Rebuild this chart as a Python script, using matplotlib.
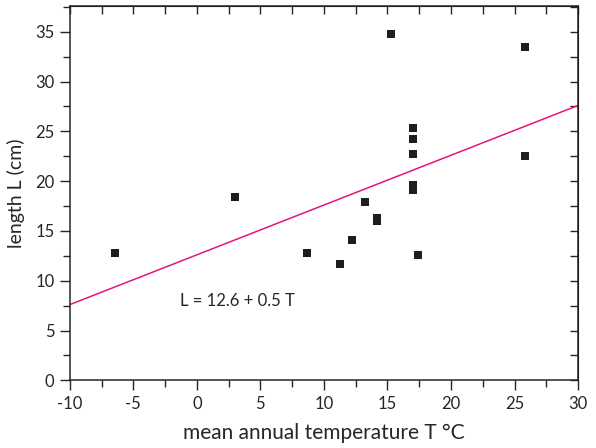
import matplotlib
matplotlib.use("Agg")
import matplotlib.pyplot as plt
import numpy as np
from matplotlib.ticker import MultipleLocator

plt.rcParams['font.family'] = ['Lato', 'DejaVu Sans']
plt.rcParams['axes.unicode_minus'] = False

# mean annual temperature (°C) and length (cm)
temp = [-6.4, 3.0, 15.3, 25.8, 17.0, 17.0, 17.0, 17.0, 17.0, 25.8,
        13.2, 14.2, 14.2, 12.2, 8.7, 11.3, 17.4]
length = [12.8, 18.4, 34.8, 33.5, 25.3, 24.2, 22.7, 19.6, 19.1, 22.5,
          17.9, 16.3, 16.0, 14.1, 12.8, 11.7, 12.6]

# regression L = a + b T
a, b = 12.6, 0.5
fit_label = "L = 12.6 + 0.5 T"

ink = '#262626'

fig = plt.figure(figsize=(5.96, 4.48), dpi=100)
ax = fig.add_axes([0.117, 0.151, 0.853, 0.836])

tline = np.array([-10, 30])
ax.plot(tline, a + b * tline, color='#e2157f', lw=1.1, zorder=2)
ax.plot(temp, length, 's', color='#1e1e1e', ms=5.8, mew=0, zorder=3)
ax.text(-1.35, 8.0, fit_label, fontsize=12, color=ink, va='center', ha='left')

ax.set_xlim(-10, 30)
ax.set_ylim(0, 37.6)
ax.xaxis.set_major_locator(MultipleLocator(5))
ax.xaxis.set_minor_locator(MultipleLocator(2.5))
ax.yaxis.set_major_locator(MultipleLocator(5))
ax.yaxis.set_minor_locator(MultipleLocator(2.5))
ax.tick_params(which='both', direction='out', colors=ink, width=1.0,
               labelsize=12, pad=4)
ax.tick_params(which='major', length=7)
ax.tick_params(which='minor', length=5)

for s in ax.spines.values():
    s.set_color(ink)
    s.set_linewidth(1.1)

# top and right ticks point inward, unlabelled
top = ax.secondary_xaxis('top')
top.xaxis.set_major_locator(MultipleLocator(2.5))
top.tick_params(direction='in', length=6, width=1.0, colors=ink, labeltop=False)
right = ax.secondary_yaxis('right')
right.yaxis.set_major_locator(MultipleLocator(2.5))
right.tick_params(direction='in', length=6, width=1.0, colors=ink, labelright=False)

ax.set_xlabel("mean annual temperature T °C", fontsize=15, color=ink, labelpad=8)
ax.set_ylabel("length L (cm)", fontsize=14, color=ink, labelpad=7)

fig.savefig("out.png", dpi=100)
